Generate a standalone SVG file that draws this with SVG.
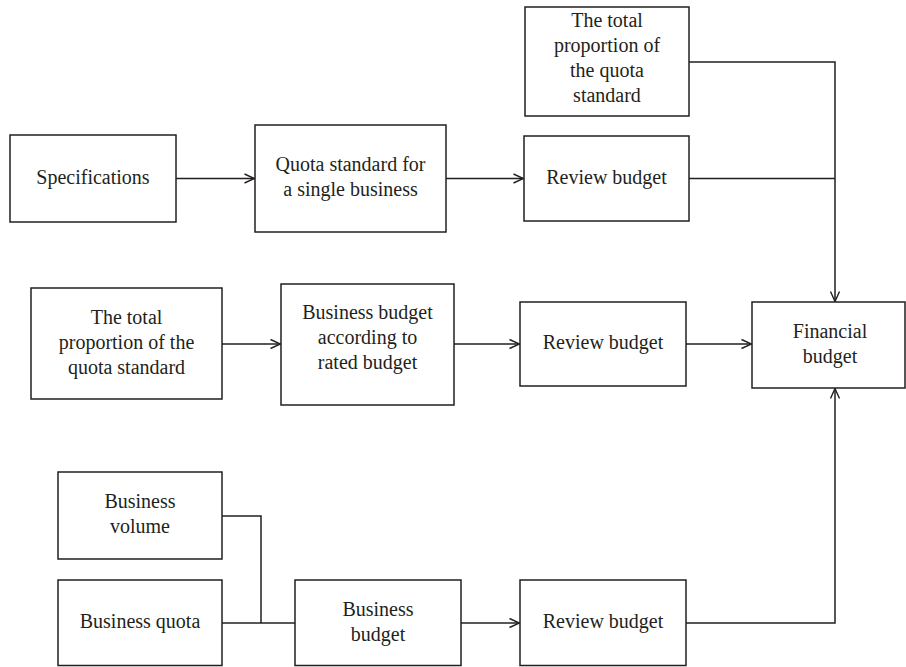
<svg xmlns="http://www.w3.org/2000/svg" width="906" height="667" viewBox="0 0 906 667">
  <style>
    .box rect { fill: #ffffff; stroke: #231f20; stroke-width: 1.5; }
    .box text { font-size: 20px; fill: #231f20; text-anchor: middle; }
    .conn path { fill: none; stroke: #231f20; stroke-width: 1.5; }
  </style>
  <defs>
    <marker id="arrow" viewBox="0 0 12 12" refX="11" refY="6" markerWidth="12" markerHeight="12" markerUnits="userSpaceOnUse" orient="auto">
      <polyline points="1,1.5 11,6 1,10.5" fill="none" stroke="#231f20" stroke-width="1.4"/>
    </marker>
  </defs>
  <rect width="906" height="667" fill="#ffffff"/>

  <!-- connectors -->
  <g class="conn">
    <path d="M176,178.5 H254.5" marker-end="url(#arrow)"/>
    <path d="M446,178.5 H523.5" marker-end="url(#arrow)"/>
    <path d="M689,62 H835 V301.5" marker-end="url(#arrow)"/>
    <path d="M689,178.5 H835"/>
    <path d="M222,344 H280.5" marker-end="url(#arrow)"/>
    <path d="M454,344 H519.5" marker-end="url(#arrow)"/>
    <path d="M686,344 H751.5" marker-end="url(#arrow)"/>
    <path d="M222,516 H261 V623"/>
    <path d="M222,623 H295"/>
    <path d="M461,623 H519.5" marker-end="url(#arrow)"/>
    <path d="M686,623 H835 V388.5" marker-end="url(#arrow)"/>
  </g>

  <!-- nodes -->
  <g font-family="Liberation Serif, DejaVu Serif, serif">
  <g id="total-proportion-top" class="box">
    <rect x="525" y="7" width="164" height="109"/>
    <text x="607" y="27">The total</text>
    <text x="607" y="52">proportion of</text>
    <text x="607" y="77">the quota</text>
    <text x="607" y="102">standard</text>
  </g>
  <g id="specifications" class="box">
    <rect x="10" y="135" width="166" height="87"/>
    <text x="93" y="184">Specifications</text>
  </g>
  <g id="quota-standard-single" class="box">
    <rect x="255" y="125" width="191" height="107"/>
    <text x="350.5" y="171">Quota standard for</text>
    <text x="350.5" y="196">a single business</text>
  </g>
  <g id="review-budget-1" class="box">
    <rect x="524" y="136" width="165" height="85"/>
    <text x="606.5" y="184">Review budget</text>
  </g>
  <g id="total-proportion-mid" class="box">
    <rect x="31" y="288" width="191" height="111"/>
    <text x="126.5" y="324">The total</text>
    <text x="126.5" y="349">proportion of the</text>
    <text x="126.5" y="374">quota standard</text>
  </g>
  <g id="business-budget-rated" class="box">
    <rect x="281" y="284" width="173" height="121"/>
    <text x="367.5" y="319">Business budget</text>
    <text x="367.5" y="344">according to</text>
    <text x="367.5" y="369">rated budget</text>
  </g>
  <g id="review-budget-2" class="box">
    <rect x="520" y="302" width="166" height="84"/>
    <text x="603" y="349">Review budget</text>
  </g>
  <g id="financial-budget" class="box">
    <rect x="752" y="302" width="153" height="86"/>
    <text x="830" y="337.5">Financial</text>
    <text x="830" y="362.5">budget</text>
  </g>
  <g id="business-volume" class="box">
    <rect x="58" y="472" width="164" height="87"/>
    <text x="140" y="508">Business</text>
    <text x="140" y="533">volume</text>
  </g>
  <g id="business-quota" class="box">
    <rect x="58" y="580" width="164" height="85.5"/>
    <text x="140" y="628">Business quota</text>
  </g>
  <g id="business-budget" class="box">
    <rect x="295" y="580" width="166" height="85.5"/>
    <text x="378" y="616">Business</text>
    <text x="378" y="641">budget</text>
  </g>
  <g id="review-budget-3" class="box">
    <rect x="520" y="580" width="166" height="85.5"/>
    <text x="603" y="628">Review budget</text>
  </g>
  </g>
</svg>
